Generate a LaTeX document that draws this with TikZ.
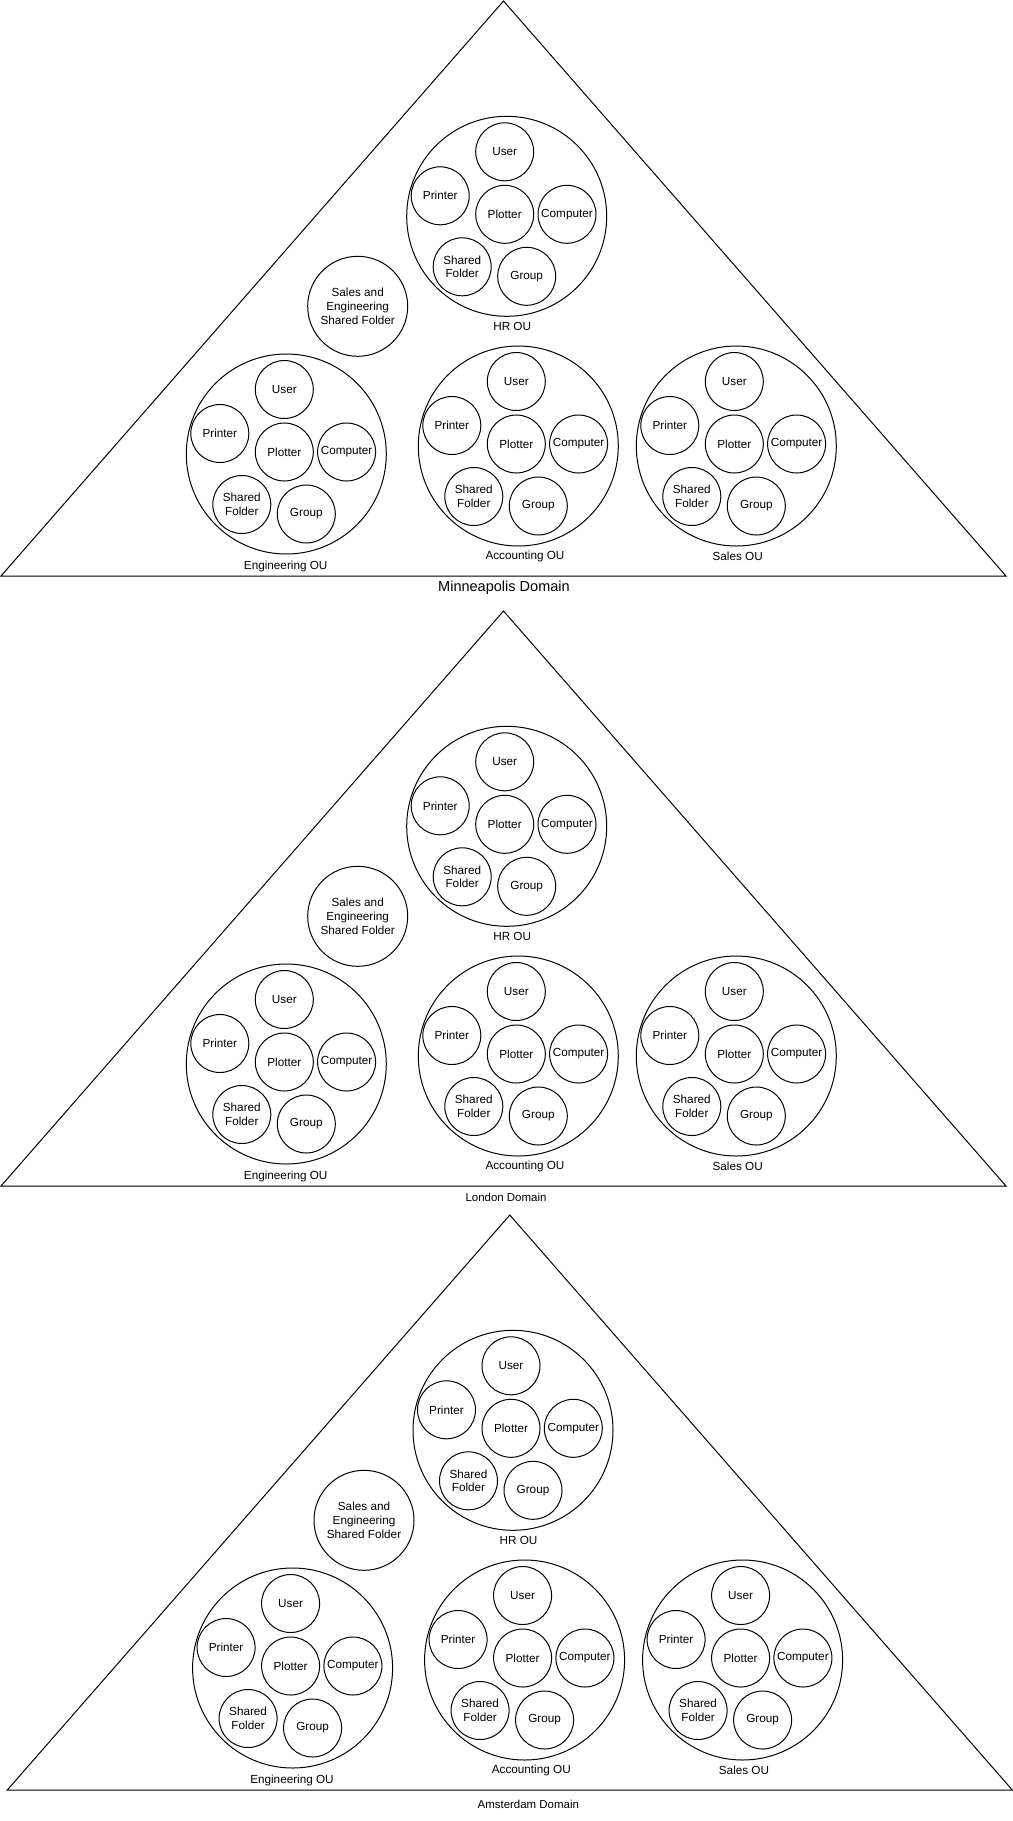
\documentclass[tikz,border=0pt]{standalone}
\usepackage{fontspec}
\setmainfont{Liberation Sans}
\tikzset{
  item/.style={draw, circle, minimum size=43.5pt, inner sep=0pt, align=center, font=\fontsize{8.8}{10.3}\selectfont},
  oubox/.style={draw, circle, minimum size=150pt, inner sep=0pt},
  sharedbox/.style={draw, circle, minimum size=75pt, inner sep=0pt, align=center, font=\fontsize{8.8}{10.5}\selectfont},
  oulabel/.style={inner sep=0pt, font=\fontsize{8.8}{10.5}\selectfont},
  domainline/.style={line join=miter}
}
\newcommand{\ouset}[6]{%
  \begin{scope}[shift={(#2,#3)}]
    \node[oubox] (#1) at (0,0) {};
    \node[item] (#1-user) at (-2,-64.5) {User};
    \node[item] (#1-printer) at (-66.5,-20.5) {Printer};
    \node[item] (#1-plotter) at (-2,-2) {Plotter};
    \node[item] (#1-computer) at (60.3,-2) {Computer};
    \node[item] (#1-folder) at (-44.5,50.5) {Shared\\Folder};
    \node[item] (#1-group) at (20,60) {Group};
    \node[oulabel] (#1-name) at (#5,#6) {#4};
  \end{scope}}
\newcommand{\domainset}[7]{%
  \begin{scope}[shift={(#2,#3)}]
    \draw[domainline] (0,0) -- (502.5,575) -- (-502.5,575) -- cycle;
    \node[sharedbox] (#1-shared) at (-145.8,305.3) {Sales and\\Engineering\\Shared Folder};
    \ouset{#1-hr}{3.2}{215.3}{HR OU}{5.5}{110.4}
    \ouset{#1-eng}{-217.2}{453}{Engineering OU}{-0.6}{112.7}
    \ouset{#1-acc}{14.8}{445}{Accounting OU}{6.7}{110.7}
    \ouset{#1-sales}{232.8}{445}{Sales OU}{1.4}{110.7}
    \node[inner sep=0pt, font={#5}] (#1-name) at (#6,#7) {#4};
  \end{scope}}
\begin{document}
\begin{tikzpicture}[x=0.75pt, y=-0.75pt, line width=0.75pt]
\useasboundingbox (0,0) rectangle (1013,1821);
\domainset{mpls}{503.5}{1}{Minneapolis Domain}{\fontsize{10.9}{13}\selectfont}{0.5}{586.3}
\domainset{ldn}{503.5}{611}{London Domain}{\fontsize{8.6}{10}\selectfont}{2.5}{586.7}
\domainset{ams}{509.8}{1215}{Amsterdam Domain}{\fontsize{8.6}{10}\selectfont}{18.5}{589.3}
\end{tikzpicture}
\end{document}
